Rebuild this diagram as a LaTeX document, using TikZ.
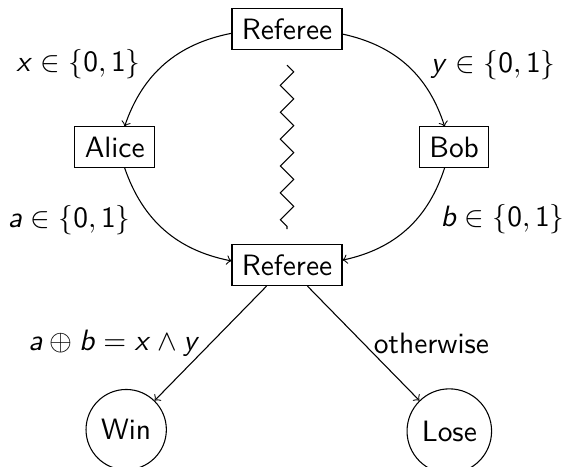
\documentclass[tikz,border=0pt,11pt]{standalone}
\usetikzlibrary{positioning,decorations.pathmorphing}
\renewcommand{\familydefault}{\sfdefault}
% sans serif letters and digits in math
\DeclareSymbolFont{sfslanted}{OT1}{cmss}{m}{sl}
\DeclareSymbolFont{sfupright}{OT1}{cmss}{m}{n}
\DeclareMathSymbol{a}{\mathalpha}{sfslanted}{`a}
\DeclareMathSymbol{b}{\mathalpha}{sfslanted}{`b}
\DeclareMathSymbol{x}{\mathalpha}{sfslanted}{`x}
\DeclareMathSymbol{y}{\mathalpha}{sfslanted}{`y}
\DeclareMathSymbol{0}{\mathord}{sfupright}{`0}
\DeclareMathSymbol{1}{\mathord}{sfupright}{`1}
\tikzset{
  party/.style  = {rectangle, draw},
  result/.style = {circle, draw},
  msg/.style    = {->},
}
\begin{document}
\begin{tikzpicture}[node distance=1cm and 1cm]
  \useasboundingbox (-3.752,0.379) rectangle (3.621,-5.725);
  \node[party] (ref) at (0,0) {Referee};
  \node[party, below left=of ref] (alice) {Alice};
  \node[party, below right=of ref] (bob) {Bob};
  \node[party, below right=of alice] (judge) {Referee};
  \node[result, below left=1.5cm and 1cm of judge] (win) {Win};
  \node[result, below right=1.5cm and 1cm of judge] (lose) {Lose};

  \draw[msg] (ref) to[bend right] node[midway, left=5pt] {$x \in \{0,1\}$} (alice);
  \draw[msg] (ref) to[bend left] node[midway, right=5pt] {$y \in \{0,1\}$} (bob);
  \draw[msg] (alice) to[bend right] node[pos=0.4, left=5pt] {$a \in \{0,1\}$} (judge);
  \draw[msg] (bob) to[bend left] node[pos=0.4, right=5pt] {$b \in \{0,1\}$} (judge);
  \draw[msg] (judge) -- node[left] {$a \oplus b = x \wedge y$} (win);
  \draw[msg] (judge) -- node[right] {otherwise} (lose);

  \draw[decorate, decoration=zigzag] ([yshift=-2mm]ref.south) -- ([yshift=2mm]judge.north);
\end{tikzpicture}
\end{document}
